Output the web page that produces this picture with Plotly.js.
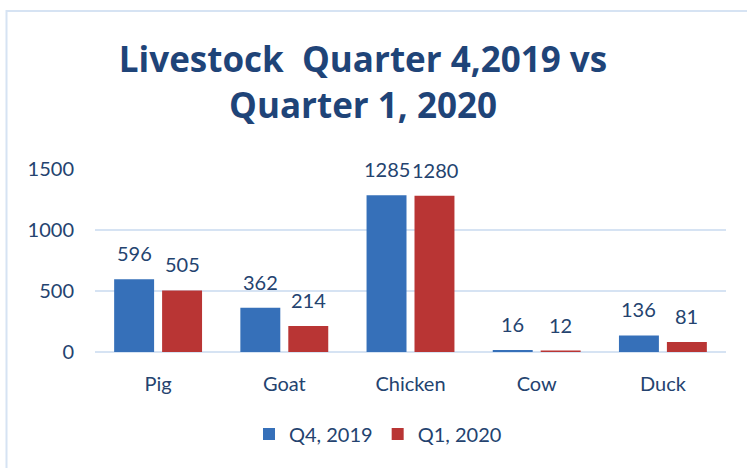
<!DOCTYPE html>
<html>
<head>
<meta charset="utf-8">
<script src="https://cdn.plot.ly/plotly-3.0.1.min.js"></script>
<style>html,body{margin:0;padding:0;background:#fff;}#chart{width:747px;height:468px;}</style>
</head>
<body>
<div id="chart"></div>
<script>
const categories = ["Pig", "Goat", "Chicken", "Cow", "Duck"];
const q4_2019 = [596, 362, 1285, 16, 136];
const q1_2020 = [505, 214, 1280, 12, 81];
const seriesNames = ["Q4, 2019", "Q1, 2020"];
const yTicks = [0, 500, 1000, 1500];

const textColor = "#24436F";
const W = 747, H = 468;
const m = {l: 95, r: 21, t: 169, b: 116};
const pw = W - m.l - m.r, ph = H - m.t - m.b;
const font = "Lato, 'Open Sans', sans-serif";

const traces = [
  {type: "bar", name: seriesNames[0], x: categories, y: q4_2019,
   marker: {color: "#3670B9"}, hoverinfo: "none"},
  {type: "bar", name: seriesNames[1], x: categories, y: q1_2020,
   marker: {color: "#B93534"}, hoverinfo: "none"}
];

const annotations = [];
[q4_2019, q1_2020].forEach((vals, si) => {
  vals.forEach((v, i) => {
    annotations.push({x: categories[i], y: v, xref: "x", yref: "y",
      text: String(v), showarrow: false, xshift: si === 0 ? -24 : 24,
      yshift: 26, yanchor: "middle",
      font: {family: font, size: 20, color: textColor}});
  });
});

const px2x = p => (p - m.l) / pw;
const px2y = p => (H - m.b - p) / ph;

const layout = {
  width: W, height: H,
  margin: m,
  paper_bgcolor: "#fff", plot_bgcolor: "#fff",
  title: {text: "Livestock  Quarter 4,2019 vs<br>Quarter 1, 2020",
    font: {family: "'Open Sans', Lato, sans-serif", size: 35, color: "#1F4478", weight: "bold"},
    x: 363 / W, xanchor: "center", xref: "container",
    y: 1 - 72 / H, yanchor: "top", yref: "container"},
  barmode: "group", bargap: 0.24, bargroupgap: 0.167,
  xaxis: {type: "category", showgrid: false, showline: false, ticks: "",
    tickfont: {family: font, size: 20, color: textColor}, ticklabelstandoff: 18,
    fixedrange: true},
  yaxis: {range: [0, 1500], tickvals: yTicks, ticktext: yTicks.map(String),
    showgrid: true, gridcolor: "#D6E3F3", gridwidth: 2,
    zeroline: true, zerolinecolor: "#D6E3F3", zerolinewidth: 2,
    showline: false, ticks: "", ticklabelstandoff: 20,
    tickfont: {family: font, size: 20, color: textColor}, fixedrange: true},
  legend: {orientation: "h", x: px2x(378), xanchor: "center", xref: "paper",
    y: px2y(434), yanchor: "middle",
    font: {family: font, size: 20, color: textColor}, itemwidth: 30},
  showlegend: true,
  annotations: annotations,
  shapes: [
    {type: "line", xref: "paper", yref: "paper", x0: px2x(6.5), x1: px2x(6.5),
     y0: px2y(10), y1: px2y(470), line: {color: "#D6E3F3", width: 2}},
    {type: "line", xref: "paper", yref: "paper", x0: px2x(6.5), x1: px2x(748),
     y0: px2y(11), y1: px2y(11), line: {color: "#D6E3F3", width: 2}}
  ]
};

Plotly.newPlot("chart", traces, layout, {displayModeBar: false, staticPlot: true});
</script>
</body>
</html>
